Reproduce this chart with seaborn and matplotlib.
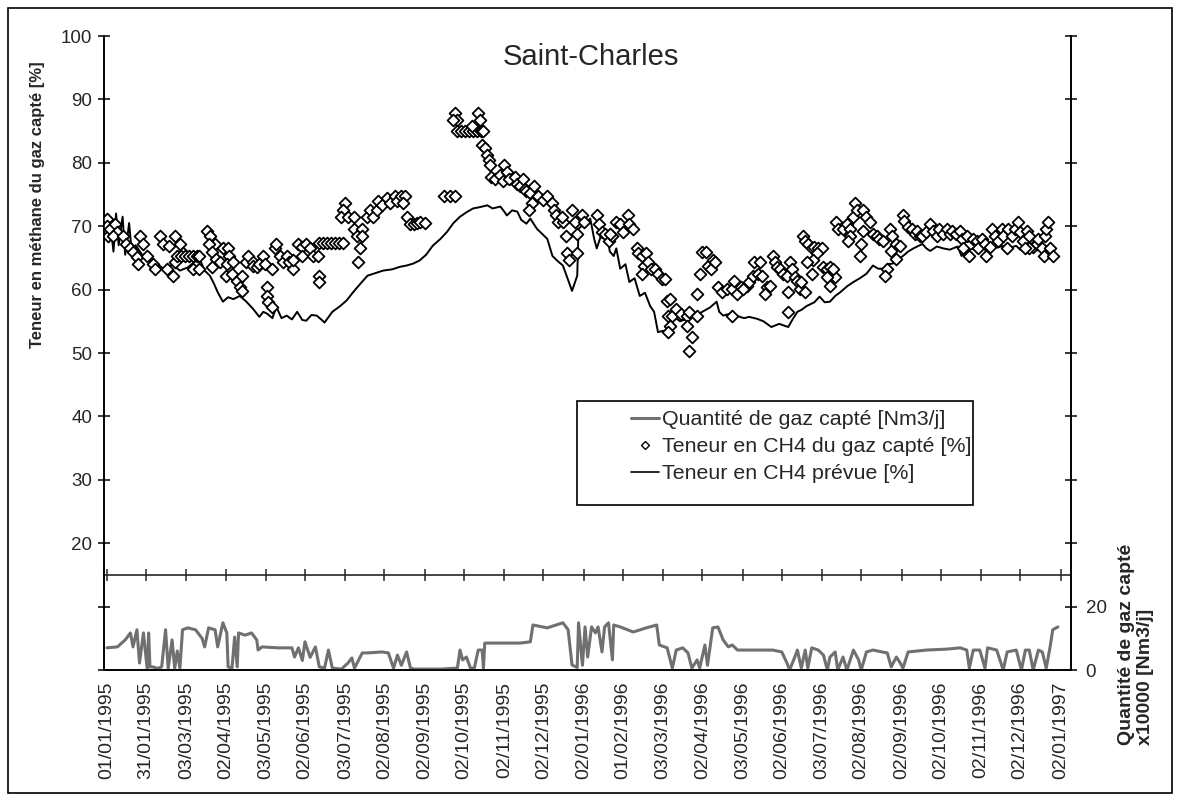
import pandas as pd
import numpy as np
import matplotlib
matplotlib.use('Agg')
import matplotlib.pyplot as plt
import seaborn as sns
from matplotlib.lines import Line2D
from matplotlib.patches import Rectangle

sns.set_style('white')
plt.rcParams['font.family'] = ['Liberation Sans', 'DejaVu Sans']

start = pd.Timestamp('1995-01-01')

# CH4 content predicted (black line): day offset from 01/01/1995, %
pred_days = [0, 2, 5, 7, 9, 12, 14, 17, 19, 22, 27, 33, 39, 45, 50, 56, 62, 68, 71, 75,
             79, 82, 85, 89, 93, 97, 102, 107, 112, 117, 120, 123, 127, 130, 134, 138, 142, 146, 150, 153,
             157, 161, 165, 167, 173, 179, 184, 189, 194, 200, 206, 212, 219, 225, 230, 235, 240, 245, 250, 256,
             261, 266, 271, 276, 281, 286, 292, 296, 302, 305, 307, 311, 315, 318, 322, 325, 330, 334, 338, 342,
             346, 350, 354, 357, 359, 361, 362, 367, 371, 374, 376, 380, 384, 386, 389, 391, 394, 398, 401, 405,
             409, 413, 417, 420, 423, 427, 431, 434, 440, 445, 451, 457, 463, 468, 470, 473, 478, 483, 489, 493,
             499, 504, 510, 516, 523, 526, 530, 533, 537, 543, 547, 551, 555, 559, 563, 568, 573, 578, 583, 588,
             592, 596, 599, 603, 607, 611, 615, 619, 622, 626, 629, 632, 637, 642, 647, 653, 656, 661, 665, 670,
             675, 681, 688, 693, 698, 701, 705, 709, 714, 718, 722, 726]
pred_vals = [68, 71.5, 66, 72, 67, 71.5, 65.5, 70.5, 66, 67, 65.5, 64.5, 64, 63, 64, 63, 63.5, 64.5, 64.9, 63,
             62.2, 61, 59.6, 58.1, 58.8, 58.5, 59, 58.1, 57, 55.7, 56.5, 56.2, 55.5, 57.3, 55.5, 55.9, 55.3, 56.5, 55.2, 55.1,
             56, 55.9, 55.2, 54.8, 56.5, 57.4, 58.3, 59.6, 60.8, 62.2, 62.6, 63, 63.2, 63.6, 63.8, 64.1, 64.6, 65.5, 66.9, 68,
             69.1, 70.5, 71.5, 72.2, 72.8, 73, 73.3, 72.8, 73.1, 72.3, 71.7, 72.5, 72.3, 71, 70.4, 71.2, 69.6, 68.8, 68, 65.3,
             64.5, 63.8, 61.5, 59.8, 61, 62.2, 69.6, 70.5, 71.2, 68, 66.5, 69, 68.5, 66, 65.3, 66.5, 63.3, 64, 61.2, 61.8,
             59, 59.5, 57.4, 56.5, 53.3, 53.5, 52.7, 55.9, 55, 55.4, 55.8, 56.5, 57.2, 58.1, 56.5, 55.9, 56.2, 55.9, 55.5, 55.7,
             55.4, 55, 54.1, 54.6, 54.1, 55.2, 56.5, 56.8, 57.4, 58, 58.9, 58, 58.1, 59, 59.6, 60.5, 61.2, 61.8, 62.5, 63.8,
             63.3, 63.3, 64, 64.1, 64.8, 65.3, 66, 66.5, 66.8, 67.2, 66.5, 66.1, 66.8, 66.5, 66.3, 66.8, 65.3, 66.2, 66.5, 66.2,
             66.8, 66.5, 66.9, 66.6, 66.9, 66.3, 66, 66.6, 66.5, 66, 66.5, 66]

# CH4 content measured (diamonds)
meas_days = [0, 0, 1, 2, 6, 8, 5, 12, 15, 18, 20, 23, 25, 28, 24, 31, 35, 37, 41, 43,
             46, 51, 52, 56, 48, 58, 52, 54, 57, 60, 63, 66, 69, 71, 66, 71, 77, 79, 83, 78,
             81, 84, 81, 87, 89, 93, 94, 92, 97, 91, 96, 100, 102, 104, 104, 107, 108, 112, 112, 115,
             120, 117, 121, 127, 123, 123, 124, 127, 129, 130, 133, 135, 138, 140, 143, 143, 147, 150, 150, 153,
             156, 158, 162, 163, 163, 163, 166, 169, 172, 175, 178, 181, 183, 181, 180, 185, 190, 190, 196, 192,
             196, 194, 193, 200, 202, 204, 207, 208, 211, 215, 217, 221, 223, 226, 229, 227, 230, 233, 236, 238,
             240, 244, 259, 263, 267,
             267, 269, 266, 269, 272, 275, 278, 281, 284, 287, 289, 280, 285, 286, 288, 290, 292, 293, 294, 295,
             298, 302, 305, 307, 304, 309, 313, 315, 317, 319, 321, 322, 325, 328, 329, 326, 324, 331, 335, 338,
             342, 343, 345, 346, 350, 349, 357, 359, 352, 353, 355, 361, 361, 365, 366, 376, 378, 380, 382, 385,
             388, 386, 391, 394, 396, 400, 401, 404, 407, 408, 411, 414, 412, 415, 418, 421, 423, 426, 428, 411,
             430, 432, 431, 434, 432, 431, 437, 441, 445, 445, 447, 449, 447, 453, 453, 455, 457, 460, 461, 464,
             465, 467, 469, 472, 476, 480, 481, 484, 487, 491, 493, 480,
             488, 496, 497, 501, 500, 503, 507, 505, 509, 511, 513, 514, 517, 519, 522, 524, 526, 523, 528, 530,
             532, 536, 533, 534, 536, 538, 541, 543, 546, 549, 545, 542, 537, 541, 523, 550, 553, 555, 559, 557,
             553, 555, 560, 561, 565, 568, 570, 570, 569, 574, 573, 576, 580, 583, 586, 580, 579, 578, 588, 591,
             593, 596, 599, 597, 601, 603, 606, 602, 606, 609, 611, 612, 615, 618, 620, 622, 624, 626, 629, 632,
             634, 637, 639, 642, 645, 647, 649, 652, 655, 656, 657, 660, 662, 665, 668, 669, 672, 674, 675, 678,
             679, 682, 684, 687, 688, 691, 692, 695, 697, 699, 701, 703, 706, 708, 711, 714, 715, 718, 719, 720,
             721, 722, 724, 726, 708, 705]
meas_vals = [71.2, 70, 68.4, 69.6, 70.4, 69.1, 68.4, 68.4, 67.2, 66.5, 66, 65.2, 68.4, 67.2, 64.1, 65.3, 64.1, 63.3, 68.4, 67.2,
             63.3, 62.2, 68.4, 67.2, 66.9, 65.7, 64.4, 65.3, 65.3, 65.3, 65.3, 65.3, 65.3, 65.3, 63.3, 63.3, 69.3, 68.4, 67.2, 67.2,
             66, 64.9, 63.6, 64.4, 66.5, 66.5, 65.3, 64.1, 64.4, 62.2, 62.5, 61.4, 60.4, 62.2, 59.8, 64.4, 65.3, 64.4, 63.8, 63.6,
             65.3, 64.1, 64.1, 63.3, 60.4, 59, 58.1, 57.3, 66.5, 67.2, 65.3, 64.4, 65.3, 64.4, 63.3, 64.6, 67.2, 66.8, 65.3, 67.2,
             66.5, 65.3, 65.3, 62.2, 61.2, 67.4, 67.4, 67.4, 67.4, 67.4, 67.4, 67.4, 73.6, 72.5, 71.5, 71.5, 71.5, 69.6, 69.6, 68.5,
             68.4, 66.5, 64.4, 71.5, 72.5, 71.5, 72.5, 74, 73.3, 74.4, 73.6, 74.7, 73.9, 74.7, 74.7, 73.6, 71.5, 70.4, 70.4, 70.5,
             70.6, 70.5, 74.7, 74.7, 74.7,
             87.8, 86.7, 86.7, 85, 85, 85, 85, 85, 85, 85, 85, 85.8, 87.8, 86.7, 82.8, 82.3, 81.2, 80.4, 79.6, 77.8,
             77.5, 78, 79.6, 78.6, 77.1, 77.5, 77.8, 76.7, 76.4, 77.5, 75.9, 75.5, 75.2, 76.4, 74.4, 73.6, 72.5, 74.7, 74.1, 74.7,
             73.6, 72.5, 71.7, 70.7, 70.7, 71.5, 72.5, 70.7, 68.5, 65.7, 64.6, 65.7, 68.8, 71.7, 70.7, 71.7, 70.4, 69.1, 68.8, 67.6,
             68.5, 68.8, 70.7, 70.4, 69.1, 71.7, 70.4, 69.6, 66.5, 65.7, 65.3, 65.7, 63.8, 64.4, 63.3, 63.3, 62.5, 61.7, 61.7, 62.5,
             58.2, 58.5, 55.9, 55.9, 54.3, 53.3, 57, 56.2, 55.9, 54.3, 56.5, 52.5, 50.3, 55.9, 59.3, 62.5, 66, 66, 63.8, 63.3,
             64.6, 64.4, 60.4, 59.7, 60.1, 60.1, 61.4, 59.3, 60.4, 60.6, 61.2, 55.9,
             60.1, 62.2, 64.4, 64.4, 62.5, 62.2, 60.4, 59.3, 60.6, 65.3, 64.4, 63.6, 63.3, 62.5, 62.2, 64.4, 63.3, 59.7, 62, 61.4,
             60.1, 59.7, 61.2, 68.4, 67.6, 67.2, 66.5, 66.8, 66.5, 66.5, 65.7, 64.6, 64.4, 62.5, 56.5, 63.6, 63.3, 63.6, 62, 63.3,
             62, 60.6, 70.7, 69.6, 69.6, 70.4, 69.6, 68.5, 67.6, 73.6, 71.5, 72.5, 72.5, 71.5, 70.7, 69.3, 67.2, 65.3, 68.8, 68.4,
             68, 67.6, 63.3, 62.2, 69.6, 68.4, 67.2, 66.1, 64.9, 66.9, 71.7, 70.9, 69.9, 69.6, 68.8, 69.3, 68.5, 68.4, 69.1, 70.4,
             69.3, 68.5, 69.6, 68.8, 69.6, 68.8, 69.3, 68.8, 69.3, 68, 66.5, 68.4, 65.3, 68, 67.6, 66.5, 68, 67.2, 65.3, 66.8,
             69.6, 68.5, 67.6, 69.6, 68.4, 66.5, 69.6, 68.5, 69.6, 70.7, 69.1, 67.6, 69.3, 68.4, 66.8, 67.2, 68, 66.5, 65.3, 68.4,
             69.6, 70.7, 66.5, 65.3, 66.5, 66.5]

# gas quantity captured, x10000 Nm3/j (grey line, right axis)
gas_days = [0, 8, 14, 18, 20, 23, 25, 28, 31, 32, 33, 35, 39, 42, 45, 47, 50, 52, 54, 56,
            58, 62, 68, 73, 75, 78, 83, 85, 89, 92, 93, 96, 98, 100, 101, 106, 111, 115, 116, 119,
            131, 142, 144, 147, 150, 152, 156, 160, 163, 167, 170, 173, 180, 185, 188, 190, 196, 200, 211, 216,
            220, 223, 226, 230, 233, 236, 240, 256, 269, 271, 273, 276, 279, 282, 285, 288, 289, 290, 304, 317,
            325, 327, 338, 350, 354, 357, 361, 362, 365, 367, 369, 372, 375, 377, 380, 382, 385, 388, 389, 394,
            404, 414, 422, 424, 430, 434, 437, 442, 446, 449, 453, 455, 459, 461, 465, 469, 473, 477, 480, 484,
            493, 511, 518, 522, 524, 528, 530, 533, 536, 538, 541, 546, 550, 553, 555, 559, 561, 565, 568, 573,
            577, 579, 583, 588, 595, 599, 602, 606, 609, 611, 615, 629, 645, 655, 660, 662, 665, 670, 674, 676,
            683, 688, 691, 698, 702, 705, 708, 711, 715, 718, 721, 724, 726, 730]
gas_vals = [7, 7.3, 9.5, 11.7, 7.3, 12.7, 2.2, 11.7, 0, 11.7, 1, 1, 0.5, 1, 12.7, 0.5, 9.5, 0.5, 6, 0.5,
            12.7, 13.3, 12.7, 10, 7.3, 13.3, 12.7, 7.3, 14.9, 11.7, 1, 0.6, 10.4, 1, 11.7, 11, 11.7, 9.5, 6.3, 7.3,
            7, 7, 4.1, 7, 3, 8.9, 4, 7.3, 1, 0.6, 6.3, 0.6, 0.3, 2.2, 3.8, 0.6, 5.4, 5.4, 5.7, 5.4,
            0.6, 4.7, 1.5, 5.7, 0.6, 0.3, 0.3, 0.3, 0.6, 6.3, 3.2, 4.1, 0.6, 0.6, 6.3, 6.3, 0.6, 8.5, 8.5, 8.5,
            8.9, 14.2, 13.3, 14.9, 12.7, 1.6, 0.8, 14.9, 1.5, 13.6, 4.1, 13.6, 11.7, 13.6, 5.7, 13.6, 14.9, 3.2, 14.2, 13.6,
            12, 13.3, 14.2, 7.9, 7, 0.6, 6.3, 7, 5.4, 0.6, 3.2, 0.6, 7.9, 1.5, 13.3, 13.6, 9.5, 7.3, 7.9, 6.3,
            6.3, 6.3, 5.7, 2.2, 0, 4.1, 6.3, 0.6, 6.3, 0.6, 7, 6.3, 4.7, 0, 4.1, 5.7, 0, 4.1, 0, 6.3,
            3.2, 0, 5.7, 6.3, 5.7, 5.4, 1, 4.1, 2.2, 0.6, 5.7, 6.3, 6.6, 7, 6.3, 0.6, 6.3, 6.3, 0.6, 7,
            6.3, 0, 5.7, 6.3, 0, 6.3, 6.3, 0, 6.3, 5.7, 0.6, 7.3, 12.7, 13.6]

tick_labels = ['01/01/1995', '31/01/1995', '03/03/1995', '02/04/1995', '03/05/1995', '02/06/1995',
               '03/07/1995', '02/08/1995', '02/09/1995', '02/10/1995', '02/11/1995', '02/12/1995',
               '02/01/1996', '01/02/1996', '03/03/1996', '02/04/1996', '03/05/1996', '02/06/1996',
               '03/07/1996', '02/08/1996', '02/09/1996', '02/10/1996', '02/11/1996', '02/12/1996',
               '02/01/1997']

legend_labels = ['Quantité de gaz capté [Nm3/j]', 'Teneur en CH4 du gaz capté [%]',
                 'Teneur en CH4 prévue [%]']

pred = pd.DataFrame({'date': start + pd.to_timedelta(pred_days, unit='D'), 'val': pred_vals})
meas = pd.DataFrame({'date': start + pd.to_timedelta(meas_days, unit='D'), 'val': meas_vals})
gas = pd.DataFrame({'date': start + pd.to_timedelta(gas_days, unit='D'), 'val': gas_vals})
ticks = pd.to_datetime(tick_labels, format='%d/%m/%Y')

fig = plt.figure(figsize=(11.8, 7.95), dpi=100)
ax = fig.add_axes([0.0881, 0.1572, 0.8195, 0.7975])
ax2 = ax.twinx()

sns.lineplot(data=pred, x='date', y='val', ax=ax, color='black', lw=1.4, estimator=None)
sns.scatterplot(data=meas, x='date', y='val', ax=ax, marker='D', s=36, facecolor='white',
                edgecolor='black', linewidth=1.3, zorder=3)
sns.lineplot(data=gas, x='date', y='val', ax=ax2, color='#707070', lw=2.2, estimator=None)

ax.set_xlim(start - pd.Timedelta(days=2.3), start + pd.Timedelta(days=740))
ax.set_ylim(0, 100)
ax2.set_ylim(0, 200)

ax.set_xticks(ticks)
ax.set_xticklabels(tick_labels, rotation=90, fontsize=14)
ax.set_yticks(range(0, 101, 10))
ax.set_yticklabels(['', ''] + [str(v) for v in range(20, 101, 10)], fontsize=13.5)
ax2.set_yticks(range(0, 201, 20))
ax2.set_yticklabels(['0', '20'] + [''] * 9, fontsize=13.5)

for a in (ax, ax2):
    a.set_xlabel('')
    a.set_ylabel('')
    a.spines['top'].set_visible(False)
    for s in ('left', 'right', 'bottom'):
        a.spines[s].set_linewidth(1.2)
        a.spines[s].set_color('black')
ax.tick_params(axis='both', direction='inout', length=9, width=1.1, color='black', pad=4)
ax2.tick_params(axis='y', direction='inout', length=9, width=1.1, color='black', pad=6)

# intermediate date axis at 15 %
sec = ax.secondary_xaxis(0.15)
sec.set_xticks(ticks)
sec.set_xticklabels([])
sec.tick_params(direction='inout', length=9, width=1.1)
sec.spines['bottom'].set_linewidth(1.2)

fig.text(0.501, 0.928, 'Saint-Charles', ha='center', va='center', fontsize=21)

fig.text(0.032, 0.742, 'Teneur en méthane du gaz capté [%]', rotation=90, ha='center', va='center',
         fontsize=12, fontweight='bold')
fig.text(0.9627, 0.0629, 'Quantité de gaz capté\nx10000 [Nm3/j]', rotation=90, ha='center', va='bottom',
         multialignment='left', fontsize=14, fontweight='bold', linespacing=1.15)

# legend: frameless entries plus a plain box
handles = [Line2D([], [], color='#707070', lw=2.2),
           Line2D([], [], marker='D', ls='', ms=4, mfc='white', mec='black', mew=1),
           Line2D([], [], color='black', lw=1.2)]
ax2.legend(handles, legend_labels, loc='upper left', bbox_to_anchor=(0.545, 0.41),
           borderaxespad=0, borderpad=0, fontsize=15.4, frameon=False,
           handlelength=1.3, handletextpad=0.15, labelspacing=0.38)
ax2.add_patch(Rectangle((0.489, 0.260), 0.4095, 0.164, transform=ax2.transAxes,
                        fill=False, edgecolor='black', lw=1.2, zorder=5))

fig.patches.append(Rectangle((0.007, 0.003), 0.986, 0.987, transform=fig.transFigure,
                             fill=False, edgecolor='black', lw=1.2))

fig.savefig('out.png', dpi=100)
